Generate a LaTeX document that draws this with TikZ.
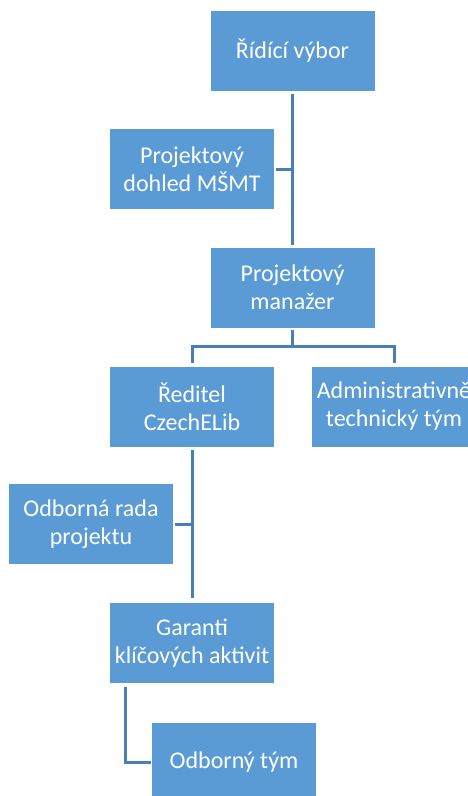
\documentclass[tikz,border=0pt]{standalone}
\usepackage{fontspec}
\setmainfont{Carlito}
\usetikzlibrary{
  positioning,
  calc,
}
\definecolor{boxblue}{HTML}{5B9BD5}
\definecolor{lineblue}{HTML}{4A7EBB}
\tikzset{
  unit/.style={
    rectangle,
    fill=boxblue,
    draw=white,
    line width=0.8pt,
    minimum width=165pt,
    minimum height=81pt,
    inner sep=2pt,
    align=center,
    text=white,
    font=\fontsize{24}{28}\selectfont,
  },
  link/.style={
    draw=lineblue,
    line width=3pt,
  },
}

\begin{document}
\begin{tikzpicture}[x=1pt, y=-1pt]
  \clip (0,0) rectangle (468,796);
  \node[unit] (vybor)   at (292.5,50.5)  {Řídící výbor};
  \node[unit] (dohled)  at (192,169)     {Projektový\\dohled MŠMT};
  \node[unit] (manazer) at (292.5,287.5) {Projektový\\manažer};
  \node[unit] (reditel) at (192,406.5)   {Ředitel\\CzechELib};
  \node[unit] (admin)   at (394,406.5)   {Administrativně\\technický tým};
  \node[unit] (rada)    at (91,524)      {Odborná rada\\projektu};
  \node[unit] (garanti) at (192,643)     {Garanti\\klíčových aktivit};
  \node[unit] (tym)     at (234,762.5)   {Odborný tým};

  % helper points
  \coordinate (fork) at ([yshift=-18pt]manazer.south);
  \coordinate (drop) at ([xshift=-67pt,yshift=-3pt]garanti.south);

  \draw[link] ([yshift=-3pt]vybor.south) -- ([yshift=2pt]manazer.north);
  \draw[link] ([xshift=1pt]dohled.east) -- (dohled.east -| vybor.south);
  \draw[link] ([yshift=-2pt]manazer.south) -- (fork);
  \draw[link] ([yshift=3pt]reditel.north) |- (fork) -| ([yshift=3pt]admin.north);
  \draw[link] ([yshift=-3pt]reditel.south) -- ([yshift=4pt]garanti.north);
  \draw[link] ([xshift=1pt]rada.east) -- (rada.east -| reditel.south);
  \draw[link] (drop) |- (tym.west);
\end{tikzpicture}
\end{document}
